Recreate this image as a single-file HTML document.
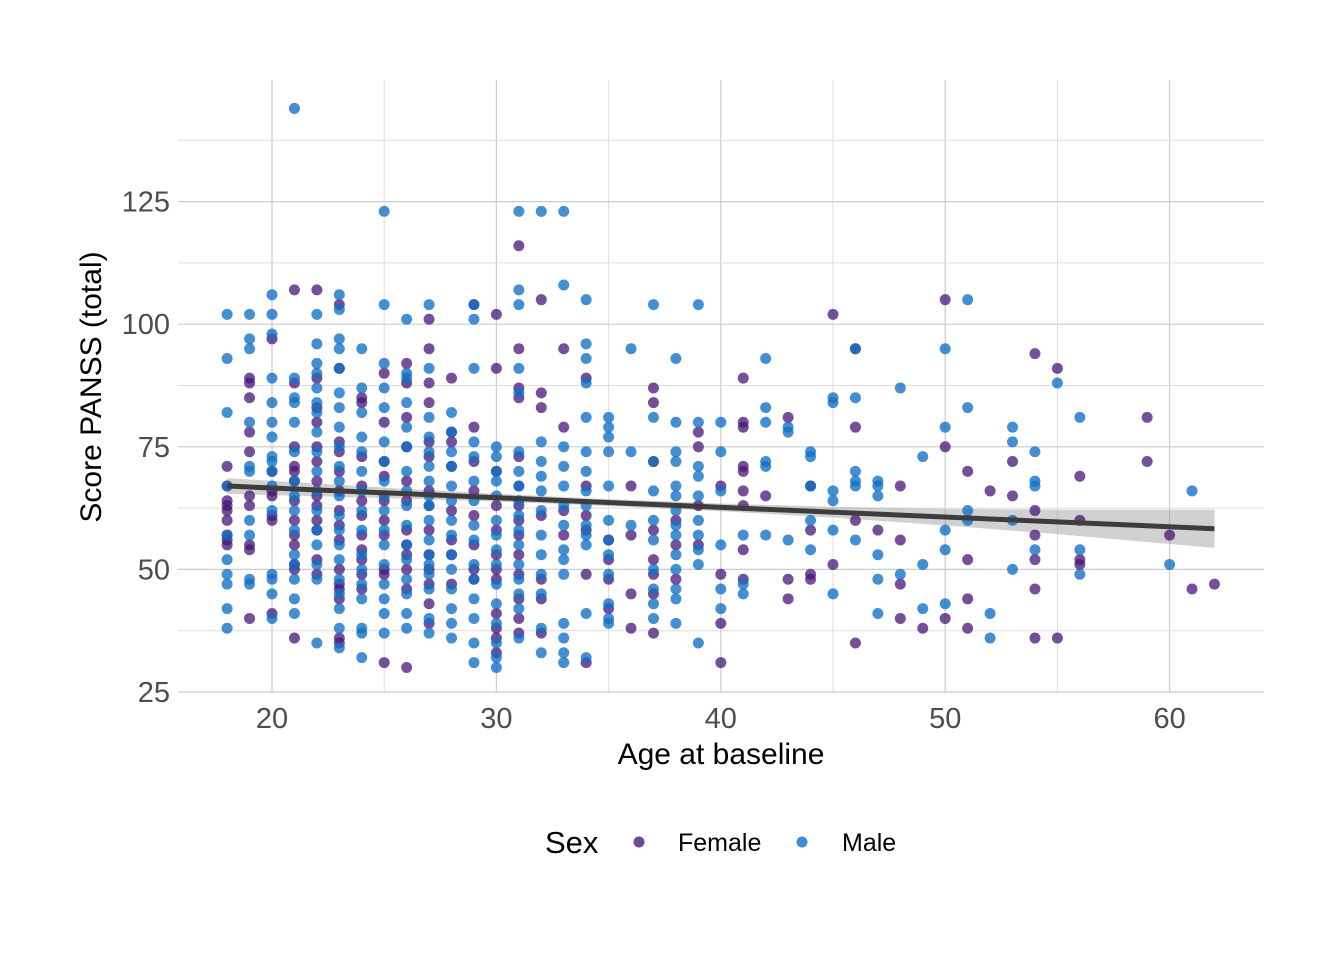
<!DOCTYPE html>
<html><head><meta charset="utf-8"><style>
html,body{margin:0;padding:0;background:#fff;}
svg{display:block;font-family:"Liberation Sans",Arial,sans-serif;}
</style></head><body>
<svg id="chart" width="1344" height="960" xmlns="http://www.w3.org/2000/svg">
<g id="grid"></g>
<g id="band"></g>
<g id="pts"></g>
<g id="fit"></g>
<g id="axes"></g>
<text x="721" y="764" text-anchor="middle" font-size="30" fill="#000">Age at baseline</text>
<text transform="translate(101,387) rotate(-90)" text-anchor="middle" font-size="30" fill="#000">Score PANSS (total)</text>
<g>
<text x="545" y="853" font-size="31" fill="#000">Sex</text>
<circle cx="639" cy="842" r="5.5" fill="rgba(72,20,120,0.78)"/>
<text x="678" y="851" font-size="25" fill="#000">Female</text>
<circle cx="802" cy="842" r="5.5" fill="rgba(16,112,196,0.8)"/>
<text x="842" y="851" font-size="25" fill="#000">Male</text>
</g>
</svg>
<script>
const xTicks=[20,30,40,50,60];
const yTicks=[25,50,75,100,125];
const femaleData=[[18,[71,64,63,62,60,57,56,55,67]],[19,[89,88,85,78,74,65,63,55,54,40]],[20,[97,70,66,65,61,60,41]],[21,[107,88,75,71,70,68,64,60,57,55,51,50,36]],[22,[107,89,83,80,75,72,68,65,63,60,58,52,49]],[23,[104,91,76,74,70,66,62,59,56,50,47,46,44,36,35]],[24,[85,84,73,67,64,61,57,54,52,49,46]],[25,[90,80,72,69,64,60,57,50,49,31]],[26,[92,88,81,75,68,64,58,55,53,50,46,30]],[27,[101,95,88,84,76,73,66,63,58,53,50,47,43,39]],[28,[89,78,76,71,62,56,53,47]],[29,[104,79,72,66,61,55,50,48]],[30,[102,91,70,63,58,53,50,48,41,38,36,33]],[31,[116,95,87,85,73,67,63,60,57,53,49,44,40,37]],[32,[105,86,83,61,48,44,37]],[33,[95,79,62,57]],[34,[89,67,61,58,49,31]],[35,[56,52,48,42]],[36,[67,57,45,38]],[37,[87,84,72,58,52,49,45,37]],[38,[60,55,48]],[39,[78,75,63,55]],[40,[67,49,39,31]],[41,[89,80,79,71,70,66,63,54,48]],[42,[65]],[43,[81,48,44]],[44,[67,58,49,48]],[45,[102,51]],[46,[95,79,60,35]],[47,[58]],[48,[67,56,47,40]],[49,[38]],[50,[105,75,40]],[51,[70,52,44,38]],[52,[66]],[53,[72,65]],[54,[94,62,57,52,46,36]],[55,[91,36]],[56,[69,60,52,51]],[59,[81,72]],[60,[57]],[61,[46]],[62,[47]]];
const maleData=[[18,[102,93,82,67,57,52,49,47,42,38]],[19,[102,97,95,80,71,70,60,57,48,47]],[20,[106,102,98,89,84,80,77,73,72,70,67,62,49,48,45,40]],[21,[144,89,85,84,80,74,68,65,62,58,53,51,48,44,41]],[22,[102,96,92,90,87,84,82,78,74,70,66,62,58,55,51,48,35]],[23,[106,103,97,95,91,86,83,79,75,71,68,65,61,58,55,52,48,45,42,38,34]],[24,[95,87,82,77,74,70,66,62,58,53,50,47,44,38,37,32]],[25,[123,104,92,87,83,76,72,68,65,62,58,55,51,47,44,41,37]],[26,[101,90,89,84,79,75,70,66,63,59,55,52,48,45,41,38]],[27,[104,91,81,77,74,71,68,65,63,60,56,53,51,49,46,40,37]],[28,[82,78,74,71,67,64,60,57,53,50,46,42,39,36]],[29,[104,101,91,76,73,68,64,59,56,51,48,44,40,35,31]],[30,[75,73,70,68,65,60,57,54,51,47,43,39,35,32,30]],[31,[123,107,104,91,86,74,70,67,64,61,58,55,51,48,45,42,36]],[32,[123,76,72,69,66,62,57,53,49,45,38,33]],[33,[123,108,75,71,67,63,59,54,52,49,39,36,33,31]],[34,[105,96,93,88,81,74,70,66,63,59,57,55,41,32]],[35,[81,79,77,74,67,60,56,53,49,43,40,39]],[36,[95,74,59]],[37,[104,81,72,66,60,56,50,46,43,40]],[38,[93,80,74,72,67,65,62,59,57,53,50,46,44,39]],[39,[104,80,71,69,65,60,57,54,51,35]],[40,[80,74,66,55,46,42]],[41,[57,47,45]],[42,[93,83,80,72,71,57]],[43,[79,78,56]],[44,[74,73,67,60,54]],[45,[85,84,66,64,58,45]],[46,[95,85,70,68,67,56]],[47,[68,67,65,53,48,41]],[48,[87,49]],[49,[73,51,42]],[50,[95,79,58,54,43]],[51,[105,83,62,60]],[52,[41,36]],[53,[79,76,60,50]],[54,[74,68,67,54]],[55,[88]],[56,[81,54,49]],[60,[51]],[61,[66]]];
const fitX=[18,62];
const fitY=[67.0,58.3];
const bandX=[18,22,26,30,35,40,45,50,55,58,62];
const bandHalf=[1.6,1.3,1.0,0.8,0.7,0.8,1.1,1.7,2.5,3.1,3.9];

const NS="http://www.w3.org/2000/svg";
const xs=v=>272+(v-20)*22.44;
const ys=v=>692-(v-25)*4.904;
const L=178,R=1264,T=80,B=692;
function mk(tag,attrs,parent){const e=document.createElementNS(NS,tag);for(const k in attrs)e.setAttribute(k,attrs[k]);parent.appendChild(e);return e;}
const grid=document.getElementById('grid');
for(let v=15;v<=65;v+=5){const x=xs(v);if(x<L||x>R)continue;
 const l=mk('line',{x1:x,x2:x,y1:T,y2:B,stroke:v%10===0?'#cccccc':'#dedede','stroke-width':v%10===0?1.2:1},grid);
 
 }
for(let v=25;v<=140;v+=12.5){const y=ys(v);if(y<T)continue;
 const l=mk('line',{x1:L,x2:R,y1:y,y2:y,stroke:(v%25===0)?'#cccccc':'#dedede','stroke-width':(v%25===0)?1.2:1},grid);
 
 }
const axes=document.getElementById('axes');
xTicks.forEach(t=>{const e=mk('text',{x:xs(t),y:728,'text-anchor':'middle','font-size':29,fill:'#4d4d4d'},axes);e.textContent=t;
 
 });
yTicks.forEach(t=>{const e=mk('text',{x:170,y:ys(t)+10,'text-anchor':'end','font-size':29,fill:'#4d4d4d'},axes);e.textContent=t;
 
 });
const pts=document.getElementById('pts');
function drawGroup(data,color,name){data.forEach(([a,arr])=>arr.forEach(s=>{const c=mk('circle',{cx:xs(a),cy:ys(s),r:5.5,fill:color},pts);
 
 }));}
drawGroup(femaleData,'rgba(72,20,120,0.75)','point-female');
drawGroup(maleData,'rgba(16,112,196,0.78)','point-male');
const fitAt=x=>fitY[0]+(fitY[1]-fitY[0])*(x-fitX[0])/(fitX[1]-fitX[0]);
let up=[],dn=[];
bandX.forEach((x,i)=>{up.push(xs(x)+','+ys(fitAt(x)+bandHalf[i]));dn.unshift(xs(x)+','+ys(fitAt(x)-bandHalf[i]));});
const bp=mk('polygon',{points:up.concat(dn).join(' '),fill:'rgba(153,153,153,0.45)'},document.getElementById('band'));


const fl=mk('line',{x1:xs(fitX[0]),y1:ys(fitY[0]),x2:xs(fitX[1]),y2:ys(fitY[1]),stroke:'#3d3d3d','stroke-width':5},document.getElementById('fit'));


</script>
</body></html>
